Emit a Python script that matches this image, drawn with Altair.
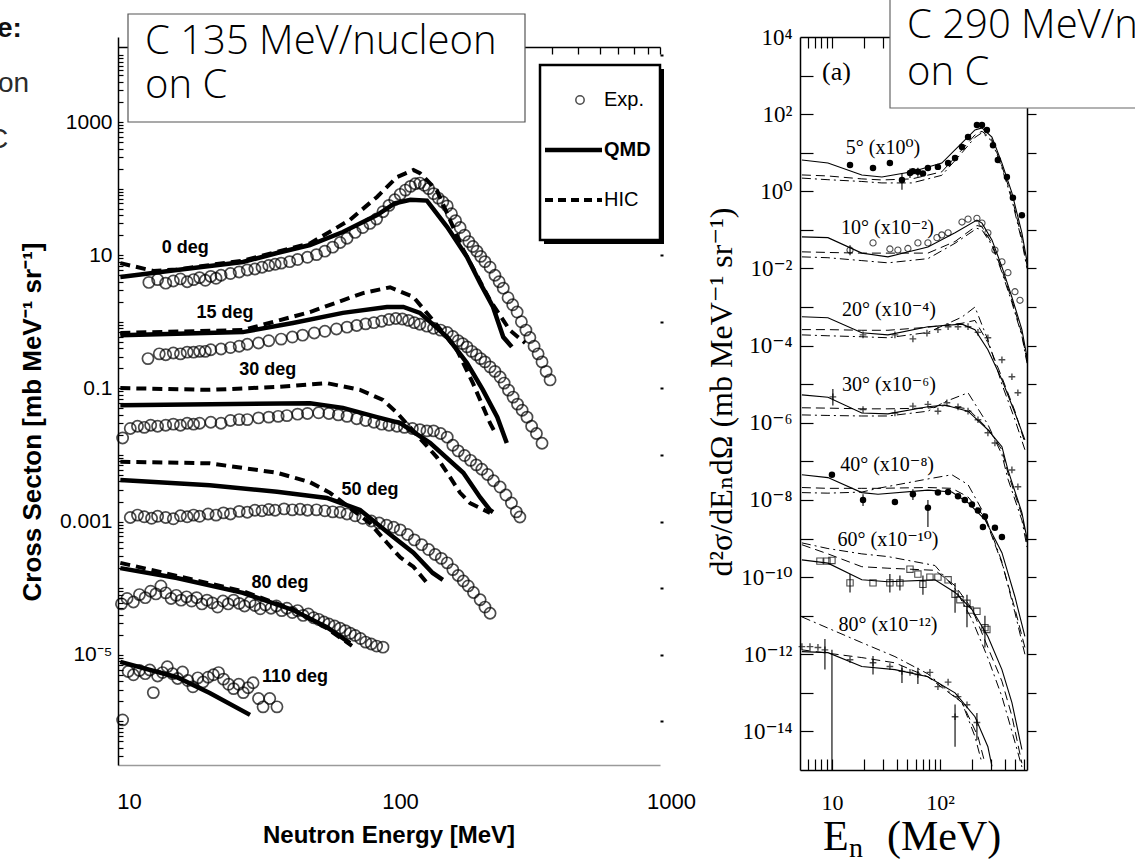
import altair as alt
import pandas as pd

# ================= LEFT PANEL : C 135 MeV/nucleon on C =================
# Exp. (open circles)
exp0_E = [13,14,15,16,17,18,19,20,21,22,23,24,26,28,30,32,34,36,38,40,43,46,50,54,58,62,66,70,75,80,85,90,95,100,105,110,115,120,125,130,135,140,146,152,158,164,170,176,183,190,197,204,211,218,226,236,246,255,264,275,286,297,308,320,331,343,355,367,380,393]
exp0_v = [3.9,4.3,3.8,4.1,4.4,4.0,4.3,4.6,4.2,4.8,4.5,5.0,5.3,5.6,6.0,6.2,6.6,7.0,7.3,7.6,8.0,8.6,9.3,10.2,11.5,13.2,15.5,18,22,26,30,35,45,56,68,82,95,108,118,121,112,100,84,72,63,55,42,33,26,20,16,13.5,11.5,9.6,8.0,6.6,5.0,4.0,3.2,2.3,1.8,1.4,1.0,0.75,0.58,0.43,0.33,0.25,0.18,0.134]
exp15_E = [12.9,14.2,15,16,17,18,19,20,21,22,24,26,28,30,33,36,40,44,48,53,58,64,70,76,82,88,94,100,106,112,118,124,130,138,146,155,164,172,180,187,194,202,210,218,226,236,246,257,266,276,287,298,310,323,336,350,367]
exp15_v = [0.28,0.33,0.32,0.34,0.33,0.35,0.35,0.36,0.36,0.38,0.39,0.41,0.43,0.46,0.48,0.52,0.55,0.59,0.63,0.68,0.72,0.78,0.83,0.88,0.93,0.97,1.02,1.08,1.12,1.10,1.05,0.97,0.92,0.86,0.80,0.75,0.69,0.60,0.52,0.47,0.42,0.36,0.32,0.28,0.25,0.21,0.18,0.148,0.12,0.094,0.074,0.058,0.047,0.037,0.027,0.021,0.015]
exp30_E = [10.4,11.1,11.8,12.5,13.2,14,15,16,17,18,19,20,22,24,26,28,30,33,36,39,42,46,50,55,60,65,70,76,82,88,94,100,107,114,122,130,138,146,155,164,172,180,190,200,210,220,231,243,257,270,283,295,304]
exp30_v = [0.018,0.025,0.027,0.026,0.028,0.027,0.028,0.029,0.028,0.030,0.029,0.030,0.031,0.030,0.033,0.034,0.034,0.036,0.037,0.038,0.039,0.041,0.042,0.043,0.042,0.040,0.038,0.035,0.033,0.031,0.029,0.028,0.027,0.026,0.025,0.024,0.023,0.023,0.021,0.0185,0.014,0.0115,0.0098,0.0083,0.0071,0.0061,0.0051,0.0041,0.0033,0.0025,0.0019,0.0014,0.00117]
exp50_E = [11.1,11.8,12.5,13.3,14,15,16,17,18,19,20,21.5,23,24.5,26,28,30,32,34,36,38,41,44,47,50,54,58,62,66,70,75,80,86,92,98,104,110,117,124,132,140,148,156,164,172,180,188,196,205,217,226,236]
exp50_v = [0.00115,0.00125,0.00118,0.00112,0.00120,0.00115,0.00110,0.00122,0.00118,0.00125,0.00120,0.00130,0.00125,0.00135,0.00130,0.00142,0.00138,0.00148,0.00145,0.00152,0.00148,0.00155,0.00150,0.00153,0.00148,0.00150,0.00145,0.00140,0.00138,0.00130,0.00122,0.00112,0.00102,0.00095,0.00088,0.00082,0.00075,0.00064,0.00053,0.00045,0.00038,0.00032,0.00028,0.00024,0.00019,0.000155,0.000128,0.000108,8.6e-5,6.7e-5,5.2e-5,4.2e-5]
exp80_E = [10.3,10.8,11.4,12.0,12.6,13.2,13.8,14.4,15.0,15.7,16.4,17.1,17.9,18.7,19.5,20.4,21.3,22.3,23.3,24.4,25.5,26.7,28,29.3,30.7,32,33.5,35,36.7,38.4,40.2,42,44,46,48.2,50.4,52.7,55,57.5,60,63,66,69,72,75,78.5,82,86,90,95]
exp80_v = [5.8e-5,7.0e-5,6.2e-5,8.0e-5,7.2e-5,9.0e-5,8.2e-5,1.08e-4,8.5e-5,7.0e-5,7.8e-5,6.6e-5,7.4e-5,6.4e-5,7.2e-5,5.8e-5,6.6e-5,6.0e-5,5.2e-5,6.4e-5,5.8e-5,6.6e-5,5.9e-5,5.4e-5,6.2e-5,5.5e-5,4.9e-5,5.6e-5,5.0e-5,5.4e-5,4.6e-5,5.0e-5,4.3e-5,4.6e-5,3.9e-5,4.1e-5,3.6e-5,3.4e-5,3.1e-5,2.9e-5,2.7e-5,2.5e-5,2.3e-5,2.1e-5,1.95e-5,1.75e-5,1.55e-5,1.45e-5,1.35e-5,1.3e-5]
exp110_E = [10.4,10.9,11.4,12.0,12.6,13.1,13.5,14.0,14.6,15.2,15.9,16.6,17.3,18.1,18.9,19.7,20.6,21.5,22.5,23.5,24.5,25.6,26.7,27.9,29,30.2,31.5,33,34.3,36.3,38.6]
exp110_v = [1.05e-6,5.6e-6,5.0e-6,5.8e-6,5.2e-6,5.9e-6,2.7e-6,4.8e-6,5.4e-6,6.6e-6,5.2e-6,4.4e-6,5.5e-6,4.1e-6,3.3e-6,4.5e-6,3.9e-6,4.6e-6,5.0e-6,5.4e-6,4.3e-6,3.6e-6,3.1e-6,3.6e-6,2.7e-6,3.2e-6,3.8e-6,2.2e-6,1.65e-6,2.2e-6,1.65e-6]

# QMD (solid)
qmd0_E = [10.2,16.5,28.9,38.6,51.1,67.6,90.3,105,120,138,164,194,217,242,264,284]
qmd0_v = [4.7,6.0,7.9,10.8,14.2,22.3,40,60,68,66,26.5,9.4,3.8,1.67,0.59,0.42]
qmd15_E = [10.2,28.9,44.2,67.6,98.3,113,130,164,194,222,251,272]
qmd15_v = [0.63,0.70,0.96,1.36,1.67,1.67,1.36,0.59,0.24,0.095,0.037,0.0151]
qmd30_E = [10.2,51.1,67.6,90.3,110,142,188,217,236,242]
qmd30_v = [0.056,0.060,0.051,0.037,0.030,0.0151,0.0054,0.0023,0.00149,0.00139]
qmd50_E = [10.2,21.8,38.6,59,78.2,103.5,123,145,158]
qmd50_v = [0.0042,0.0035,0.0028,0.00226,0.00149,0.00059,0.00034,0.000169,0.000133]
qmd80_E = [10.2,16.5,28.9,44.2,59,71.8]
qmd80_v = [0.00020,0.000142,8.5e-5,4.7e-5,2.6e-5,1.5e-5]
qmd110_E = [10.2,16.5,21.8,30.7]
qmd110_v = [7.8e-6,4.6e-6,2.67e-6,1.25e-6]

# HIC (dashed)
hic0_E = [10.2,13.5,16.5,28.9,51.1,71.8,90.3,107,123,130,150,188,236,279,318]
hic0_v = [7.6,5.8,6.1,8.3,15,34,75,149,190,171,95,12.0,2.1,0.75,0.48]
hic15_E = [10.2,28.9,51.1,80.2,100.9,123,142,178,204,236,246]
hic15_v = [0.68,0.75,1.40,2.7,3.3,2.36,1.18,0.38,0.12,0.030,0.022]
hic30_E = [10.2,21.8,38.6,59,78.2,95,107,150,164,183,199,236]
hic30_v = [0.101,0.095,0.105,0.12,0.095,0.067,0.043,0.0093,0.0054,0.0027,0.0019,0.00135]
hic50_E = [10.2,21.8,38.6,51.1,60.6,85,98.3,110,123,138]
hic50_v = [0.0079,0.0075,0.0054,0.0039,0.0027,0.00095,0.00048,0.00029,0.00021,0.00012]
hic80_E = [10.2,14.3,28.9,44.2,59,73]
hic80_v = [0.00024,0.000175,9.0e-5,4.8e-5,2.5e-5,1.36e-5]

L_LABELS = ["0 deg", "15 deg", "30 deg", "50 deg", "80 deg", "110 deg"]
L_LABEL_E = [17.7, 24.8, 35.7, 85.1, 39.6, 45.0]
L_LABEL_V = [12.8, 1.36, 0.189, 0.00298, 1.2e-4, 4.6e-6]

L_XTICKS = [10, 100, 1000]
L_YTICKS = [1e-5, 1e-3, 0.1, 10, 1000]

# ================= RIGHT PANEL : C 290 MeV/nucleon on C =================
r5_E = [5.27,9.18,18.9,29.0,55.1,104,160,211,245,303,375,464,574,640]
r5_sol = [6.5,5.4,2.66,2.36,3.2,5.4,17.9,39,44,25.6,5.4,0.91,0.084,0.015]
r5_dash = [2.66,2.5,2.1,1.97,2.1,3.2,12,29,36,22,4.5,0.7,0.06,0.012]
r5_dd = [2.2,2.0,1.8,1.65,1.65,2.6,10,25,33,20,4.0,0.6,0.05,0.01]
r10_E = [5.27,9.18,18.9,33.0,77.4,138,220,245,303,375,464,574,640]
r10_sol = [0.066,0.063,0.025,0.020,0.036,0.084,0.18,0.15,0.055,0.011,0.0018,0.00026,5e-5]
r10_dash = [0.027,0.026,0.025,0.025,0.025,0.05,0.13,0.12,0.045,0.009,0.0015,0.0002,4e-5]
r10_dd = [0.020,0.019,0.016,0.014,0.018,0.045,0.11,0.10,0.04,0.008,0.0013,0.00018,3.5e-5]
r20_E = [5.27,9.18,18.9,33.0,77.4,160,211,278,375,495,612]
r20_sol = [5.6e-4,5.3e-4,2.15e-4,1.9e-4,3.1e-4,3.6e-4,2.6e-4,7.8e-5,1.3e-5,1.8e-6,3.6e-7]
r20_dash = [2.6e-4,2.6e-4,2.5e-4,2.5e-4,3.0e-4,3.8e-4,4.5e-4,1.2e-4,1.5e-5,2e-6,3e-7]
r20_dd = [1.9e-4,1.8e-4,1.7e-4,1.6e-4,2.2e-4,5.5e-4,1.0e-3,1.4e-4,1.0e-5,1.2e-6,2e-7]
r30_E = [5.27,9.18,18.9,33.0,77.4,111,182,278,375,426,574,640]
r30_sol = [5.3e-6,4.6e-6,1.8e-6,1.7e-6,2.6e-6,2.9e-6,2.0e-6,6.6e-7,2.4e-7,6e-8,4.7e-9,1e-9]
r30_dash = [2.45e-6,2.4e-6,2.3e-6,2.3e-6,2.4e-6,2.8e-6,2.3e-6,7e-7,2e-7,5e-8,4e-9,8e-10]
r30_dd = [1.6e-6,1.55e-6,1.5e-6,1.5e-6,2.0e-6,3.5e-6,6e-6,9e-7,1.5e-7,3.5e-8,3e-9,6e-10]
r40_E = [5.27,9.18,18.9,26.7,77.4,129,182,261,375,495,612]
r40_sol = [4.5e-8,3.8e-8,1.55e-8,1.4e-8,1.8e-8,1.6e-8,8.5e-9,3.1e-9,4.3e-10,3.1e-11,2.9e-12]
r40_dash = [2.1e-8,2.0e-8,2.0e-8,2.0e-8,2.1e-8,2.0e-8,1.2e-8,3.5e-9,2.3e-10,1.5e-11,1.5e-12]
r40_dd = [1.55e-8,1.5e-8,1.6e-8,2.0e-8,3.5e-8,4.5e-8,2.5e-8,4e-9,2.5e-10,1.2e-11,1e-12]
r60_E = [5.27,9.18,18.9,33.0,89.9,138,198,278,375,464,574]
r60_sol = [2.8e-10,2.3e-10,8.5e-11,7.6e-11,8.5e-11,4.0e-11,1.44e-11,2.9e-12,4e-13,5.6e-14,3.4e-15]
r60_dash = [6.9e-10,4e-10,1.86e-10,1.7e-10,1.5e-10,6e-11,1.5e-11,1.5e-12,2e-13,2.5e-14,1.5e-15]
r60_dd = [7.7e-10,5.5e-10,4e-10,3.4e-10,2.0e-10,5e-11,8e-12,8e-13,8e-14,1e-14,1.2e-15]
r80_sol_E = [5.27,9.18,18.9,38.3,77.4,138,211,278,303]
r80_sol = [1.17e-12,1.1e-12,4.8e-13,4.0e-13,2.6e-13,1.0e-13,2.4e-14,4.0e-15,1.25e-15]
r80_dash_E = [5.27,18.9,38.3,77.4,160,225,261]
r80_dash = [1.3e-12,8.2e-13,6.0e-13,2.6e-13,5.6e-14,7.4e-15,1.5e-15]
r80_dd_E = [5.27,18.9,38.3,77.4,160,211,245]
r80_dd = [9.3e-12,2.0e-12,8.7e-13,3.1e-13,5.6e-14,7.4e-15,1.5e-15]

# measured points
x5_E = [14.7,24.0,34.4,44.5,52.8,56.2,62.5,69.6,77.4,95.8,119,138,160,182,220,245,272,310,344,417,474,574]
x5_v = [4.8,4.0,5.4,1.97,3.0,3.3,3.2,2.9,4.0,4.3,5.4,7.3,14.1,25.6,52,52,39,15.7,6.5,2.36,0.68,0.24]
x10_E = [14.7,24.0,34.4,40.8,50.5,62.5,77.4,93.8,104,119,160,182,220,245,278,323,375,426,495,551]
x10_v = [0.030,0.046,0.032,0.030,0.033,0.046,0.046,0.063,0.074,0.084,0.16,0.19,0.20,0.15,0.084,0.030,0.0148,0.0078,0.0025,0.0015]
x20_E = [19.4,38.3,56.2,75.8,95.8,119,147,182,225,278,375,464,527]
x20_v = [1.9e-4,1.9e-4,1.5e-4,2.1e-4,2.6e-4,3.1e-4,3.1e-4,3.1e-4,2.2e-4,1.6e-4,4.3e-5,1.56e-5,6.0e-6]
x30_E = [10.2,19.4,38.3,56.2,77.4,95.8,116,147,182,225,278,323,464,527]
x30_v = [4.7e-6,2.2e-6,1.8e-6,2.7e-6,3.0e-6,2.0e-6,3.3e-6,2.6e-6,2.0e-6,1.2e-6,5.5e-7,3.0e-7,6e-8,2.2e-8]
x40_E = [10,19.4,38.3,56.2,77.4,95.8,119,147,170,198,225,250,261,323,375]
x40_v = [4.5e-8,1.0e-8,8.9e-9,1.4e-8,6.3e-9,1.55e-8,1.6e-8,1.25e-8,1.0e-8,7.6e-9,5.3e-9,2.0e-9,3.7e-9,1.9e-9,1.1e-9]
x60_E = [7.74,8.99,10,14.7,24.0,34.4,42.6,52.8,62.5,69.6,80.8,95.8,119,138,153,178,190,220,261,272]
x60_v = [2.6e-10,2.6e-10,2.7e-10,7.1e-11,7.1e-11,7.1e-11,7.1e-11,1.6e-10,1.2e-10,6.5e-11,1.0e-10,1.0e-10,8.5e-11,3.6e-11,2.6e-11,2.1e-11,1.4e-11,1.3e-11,4.9e-12,4.4e-12]
x80_E = [5.27,6.26,7.42,8.61,14.7,24.0,34.4,44.5,52.8,62.5,80.8,95.8,119,138,147,178,220]
x80_v = [1.58e-12,1.58e-12,1.5e-12,1.3e-12,7.2e-13,6.0e-13,4.8e-13,3.6e-13,3.4e-13,3.0e-13,3.4e-13,1.45e-13,1.9e-13,2.4e-14,8e-14,4.9e-14,1.7e-14]

err_E = [44.5,52.8,62.5,14.7,10.2,19.4,56.2,77.4,14.7,34.4,42.6,69.6,138,178,261,8.61,10,24.0,44.5,62.5,138,220]
err_lo = [1.1,2.2,2.4,0.022,2.8e-6,7e-9,1.0e-8,2.0e-9,4e-11,4e-11,4.5e-11,3.5e-11,1.2e-11,5e-12,1.5e-12,4e-13,1e-15,3e-13,1.8e-13,1.7e-13,4e-15,6e-15]
err_hi = [2.9,3.9,4.1,0.040,7.5e-6,1.4e-8,1.9e-8,1.0e-8,1.2e-10,1.2e-10,1.1e-10,1.1e-10,7e-11,3.5e-11,1.0e-11,2.5e-12,1.3e-12,9e-13,5e-13,4.5e-13,5e-14,3e-14]

R_LABELS = ["5° (x10⁰)", "10° (x10⁻²)", "20° (x10⁻⁴)", "30° (x10⁻⁶)", "40° (x10⁻⁸)", "60° (x10⁻¹⁰)", "80° (x10⁻¹²)"]
R_LABEL_E = [29.7, 32.7, 33.7, 33.7, 32.4, 33.0, 33.0]
R_LABEL_V = [13.3, 0.113, 8.5e-4, 9.6e-6, 8.2e-8, 9.3e-10, 5.8e-12]

R_YTICKS = [1e4, 1e2, 1.0, 1e-2, 1e-4, 1e-6, 1e-8, 1e-10, 1e-12, 1e-14]
R_YTEXT = ["10⁴", "10²", "10⁰", "10⁻²", "10⁻⁴", "10⁻⁶", "10⁻⁸", "10⁻¹⁰", "10⁻¹²", "10⁻¹⁴"]
R_XTICKS = [10, 100]

# ======================== build ========================
W, H = 1135, 861
NARROW = "Liberation Sans Narrow, Liberation Sans, Arial, sans-serif"
SANS = "Liberation Sans, Arial, sans-serif"
SERIF = "Liberation Serif, DejaVu Serif, serif"
SLIDE = "Open Sans, Lato, sans-serif"
ONE = pd.DataFrame({"k": [0]})

# panel placement (pixel ranges of each panel's scales)
LX = alt.Scale(type="log", domain=[10, 1000], range=[118, 660], nice=False)
LY = alt.Scale(type="log", domain=[2.21e-7, 1.89e4], range=[765, 37], nice=False)
RX = alt.Scale(type="log", domain=[5.06, 640], range=[800, 1027], nice=False)
RY = alt.Scale(type="log", domain=[1e-15, 1e4], range=[770, 37], nice=False)


def frame(series):
    rows = []
    for name, E, V in series:
        for e, v in zip(E, V):
            rows.append({"E": e, "v": v, "g": name})
    return pd.DataFrame(rows)


def px_text(txt, x, y, size, font, weight="normal", align="left", baseline="alphabetic", angle=0, color="black"):
    props = dict(text=txt, align=align, baseline=baseline, font=font, fontSize=size, fontWeight=weight, color=color)
    if angle:
        props["angle"] = angle
    return alt.Chart(ONE).mark_text(**props).encode(x=alt.value(x), y=alt.value(y))


def px_rect(x, x2, y, y2, **kw):
    return alt.Chart(ONE).mark_rect(**kw).encode(x=alt.value(x), x2=alt.value(x2), y=alt.value(y), y2=alt.value(y2))


def px_rule(x, x2, y, **kw):
    return alt.Chart(ONE).mark_rule(**kw).encode(x=alt.value(x), x2=alt.value(x2), y=alt.value(y))


def guide_y(scale, **axis_kw):
    return alt.Chart(ONE).mark_point(opacity=0).encode(
        y=alt.Y("k:Q", scale=scale, axis=alt.Axis(labels=False, title=None, grid=False, tickColor="black", **axis_kw)))


def guide_x(scale, **axis_kw):
    return alt.Chart(ONE).mark_point(opacity=0).encode(
        x=alt.X("k:Q", scale=scale, axis=alt.Axis(labels=False, title=None, grid=False, tickColor="black", **axis_kw)))


def xy(sx, sy, xaxis=None, yaxis=None):
    return dict(x=alt.X("E:Q", scale=sx, axis=xaxis), y=alt.Y("v:Q", scale=sy, axis=yaxis))


# ---------- LEFT ----------
L_exp = frame([(L_LABELS[0], exp0_E, exp0_v), (L_LABELS[1], exp15_E, exp15_v), (L_LABELS[2], exp30_E, exp30_v),
               (L_LABELS[3], exp50_E, exp50_v), (L_LABELS[4], exp80_E, exp80_v), (L_LABELS[5], exp110_E, exp110_v)])
L_qmd = frame([(L_LABELS[0], qmd0_E, qmd0_v), (L_LABELS[1], qmd15_E, qmd15_v), (L_LABELS[2], qmd30_E, qmd30_v),
               (L_LABELS[3], qmd50_E, qmd50_v), (L_LABELS[4], qmd80_E, qmd80_v), (L_LABELS[5], qmd110_E, qmd110_v)])
L_hic = frame([(L_LABELS[0], hic0_E, hic0_v), (L_LABELS[1], hic15_E, hic15_v), (L_LABELS[2], hic30_E, hic30_v),
               (L_LABELS[3], hic50_E, hic50_v), (L_LABELS[4], hic80_E, hic80_v)])
L_lab = pd.DataFrame({"E": L_LABEL_E, "v": L_LABEL_V, "t": L_LABELS})

L_minor = [k * 10.0 ** e for e in range(-7, 5) for k in range(1, 10) if 2.3e-7 <= k * 10.0 ** e <= 1.8e4]
L_decades = [float(f"1e{e}") for e in range(-6, 5)]
L_topticks = [k * 10.0 ** e for e in (1, 2) for k in range(2, 10)] + [1000]

main_x = alt.Axis(orient="bottom", offset=765 - H, values=L_XTICKS, labelExpr="format(datum.value, 'd')",
                  labelFont=NARROW, labelFontSize=22, labelPadding=26, labelFlush=False, labelOffset=11,
                  tickSize=0, domainColor="#9a9a9a", domainWidth=1.3, labelColor="black", title=None, grid=False)
main_y = alt.Axis(orient="left", offset=-118, values=L_YTICKS,
                  labelExpr="datum.value < 0.0001 ? '10⁻⁵' : format(datum.value, '~g')",
                  labelFont=NARROW, labelFontSize=21, labelPadding=6, tickSize=0, domainColor="black",
                  domainWidth=1.5, labelColor="black", title=None, grid=False)

left_layers = [
    alt.Chart(L_qmd).mark_line(color="black", strokeWidth=4.5).encode(**xy(LX, LY, main_x, main_y), detail="g:N"),
    alt.Chart(L_hic).mark_line(color="black", strokeWidth=4, strokeDash=[10, 6]).encode(**xy(LX, LY), detail="g:N"),
    alt.Chart(L_exp).mark_point(shape="circle", filled=False, color="black", size=125, strokeWidth=1.7).encode(**xy(LX, LY)),
    guide_y(LY, orient="right", offset=118 - W, values=L_minor, domain=False, tickSize=5, tickWidth=1.2),
    guide_y(LY, orient="right", offset=660 - W, values=L_decades, domain=False, tickSize=3, tickWidth=2),
    guide_x(LX, orient="bottom", offset=47 - H, values=L_topticks, domain=True, domainColor="black",
            domainWidth=1.5, tickSize=7, tickWidth=1.3),
    alt.Chart(L_lab).mark_text(font=NARROW, fontSize=18, fontWeight="bold", color="black").encode(**xy(LX, LY), text="t:N"),
    # title box
    px_rect(128, 525, 14, 122, fill="white", stroke="#555555", strokeWidth=1.2),
    px_text("C 135 MeV/nucleon", 145, 54, 40, SLIDE, weight=300),
    px_text("on C", 145, 98, 40, SLIDE, weight=300),
    # legend box
    px_rect(544, 664, 69, 244, fill="black"),
    px_rect(540, 660, 65, 240, fill="white", stroke="black", strokeWidth=2.5),
    alt.Chart(ONE).mark_point(shape="circle", filled=False, color="black", size=70, strokeWidth=1.5).encode(
        x=alt.value(580), y=alt.value(100)),
    px_text("Exp.", 604, 100, 20, NARROW, baseline="middle"),
    px_rule(545, 602, 150, color="black", strokeWidth=4.5),
    px_text("QMD", 604, 150, 20, NARROW, weight="bold", baseline="middle"),
    px_rule(545, 602, 200, color="black", strokeWidth=4, strokeDash=[8, 5]),
    px_text("HIC", 604, 200, 20, NARROW, baseline="middle"),
    # axis titles
    px_text("Cross Secton [mb MeV⁻¹ sr⁻¹]", 33, 422, 26, SANS, weight="bold", align="center", baseline="middle", angle=270),
    px_text("Neutron Energy [MeV]", 389, 836, 24, NARROW, weight="bold", align="center", baseline="middle"),
    # slide fragments at far left (cut by the slide edge)
    px_text("e:", -3, 37, 28, SANS, weight="bold", color="#111111"),
    px_text("on", -2, 92, 28, SANS, color="#2b2b2b"),
    px_text("C", -12, 148, 28, SANS, color="#2b2b2b"),
]

# ---------- RIGHT ----------
ang = ["5", "10", "20", "30", "40", "60", "80"]
R_sol = frame([(ang[0], r5_E, r5_sol), (ang[1], r10_E, r10_sol), (ang[2], r20_E, r20_sol), (ang[3], r30_E, r30_sol),
               (ang[4], r40_E, r40_sol), (ang[5], r60_E, r60_sol), (ang[6], r80_sol_E, r80_sol)])
R_dash = frame([(ang[0], r5_E, r5_dash), (ang[1], r10_E, r10_dash), (ang[2], r20_E, r20_dash), (ang[3], r30_E, r30_dash),
                (ang[4], r40_E, r40_dash), (ang[5], r60_E, r60_dash), (ang[6], r80_dash_E, r80_dash)])
R_dd = frame([(ang[0], r5_E, r5_dd), (ang[1], r10_E, r10_dd), (ang[2], r20_E, r20_dd), (ang[3], r30_E, r30_dd),
              (ang[4], r40_E, r40_dd), (ang[5], r60_E, r60_dd), (ang[6], r80_dd_E, r80_dd)])
R_fill = frame([(ang[0], x5_E, x5_v), (ang[4], x40_E, x40_v)])
R_open = frame([(ang[1], x10_E, x10_v)])
R_plus = frame([(ang[2], x20_E, x20_v), (ang[3], x30_E, x30_v), (ang[6], x80_E, x80_v)])
R_sq = frame([(ang[5], x60_E, x60_v)])
R_err = pd.DataFrame({"E": err_E, "lo": err_lo, "hi": err_hi})
R_lab = pd.DataFrame({"E": R_LABEL_E, "v": R_LABEL_V, "t": R_LABELS})

r_expr = "".join(f"datum.value > {t / 10:g} ? '{s}' : " for t, s in zip(R_YTICKS, R_YTEXT)) + "''"
R_decades = [float(f"1e{e}") for e in range(-14, 4)]
R_minor_x = [6, 7, 8, 9, 10, 20, 30, 40, 50, 60, 70, 80, 90, 100, 200, 300, 400, 500, 600]

r_main_x = alt.Axis(orient="bottom", offset=770 - H, values=R_XTICKS, labelExpr="datum.value < 50 ? '10' : '10²'",
                    labelFont=SERIF, labelFontSize=22, labelPadding=22, tickSize=0, domainColor="black",
                    domainWidth=1.5, labelColor="black", labelFlush=False, title=None, grid=False)
r_main_y = alt.Axis(orient="left", offset=-800, values=R_YTICKS, labelExpr=r_expr, labelFont=SERIF,
                    labelFontSize=23, labelPadding=8, tickSize=0, domainColor="black", domainWidth=1.5,
                    labelColor="black", labelFlush=False, title=None, grid=False)
PLUS = "M-1,0L1,0M0,-1L0,1"

right_layers = [
    alt.Chart(R_sol).mark_line(color="black", strokeWidth=1.1).encode(**xy(RX, RY, r_main_x, r_main_y), detail="g:N"),
    alt.Chart(R_dash).mark_line(color="black", strokeWidth=1.0, strokeDash=[9, 5]).encode(**xy(RX, RY), detail="g:N"),
    alt.Chart(R_dd).mark_line(color="black", strokeWidth=1.0, strokeDash=[9, 4, 2, 4]).encode(**xy(RX, RY), detail="g:N"),
    alt.Chart(R_err).mark_rule(color="black", strokeWidth=1.1).encode(
        x=alt.X("E:Q", scale=RX, axis=None), y=alt.Y("lo:Q", scale=RY, axis=None), y2="hi:Q"),
    alt.Chart(R_fill).mark_point(shape="circle", filled=True, color="black", size=42, opacity=1).encode(**xy(RX, RY)),
    alt.Chart(R_open).mark_point(shape="circle", filled=False, color="black", size=38, strokeWidth=1.1).encode(**xy(RX, RY)),
    alt.Chart(R_plus).mark_point(shape=PLUS, filled=False, color="black", size=45, strokeWidth=1.4).encode(**xy(RX, RY)),
    alt.Chart(R_sq).mark_point(shape="square", filled=False, color="black", size=40, strokeWidth=1.1).encode(**xy(RX, RY)),
    guide_y(RY, orient="right", offset=800 - W, values=R_decades, domain=False, tickSize=13, tickWidth=1.2),
    guide_y(RY, orient="right", offset=1027 - W, values=R_decades, domain=True, domainColor="black",
            domainWidth=1.5, tickSize=9, tickWidth=1.2),
    guide_x(RX, orient="top", offset=-770, values=R_minor_x, domain=False, tickSize=11, tickWidth=1.2),
    guide_x(RX, orient="bottom", offset=37 - H, values=R_minor_x, domain=True, domainColor="black",
            domainWidth=1.5, tickSize=11, tickWidth=1.2),
    alt.Chart(R_lab).mark_text(font=SERIF, fontSize=20, color="black").encode(**xy(RX, RY), text="t:N"),
    px_text("(a)", 822, 72, 26, SERIF, baseline="middle"),
    # title box (cut by the slide edge)
    px_rect(890, 1145, -2, 108, fill="white", stroke="#666666", strokeWidth=1.2),
    px_text("C 290 MeV/nucleon", 907, 38, 40, SLIDE, weight=300),
    px_text("on C", 907, 85, 40, SLIDE, weight=300),
    # axis titles
    px_text("d²σ/dEₙdΩ (mb MeV⁻¹ sr⁻¹)", 722, 392, 32, SERIF, align="center", baseline="middle", angle=270),
    px_text("E", 823, 850, 42, SERIF),
    px_text("n", 849, 857, 28, SERIF),
    px_text("(MeV)", 887, 850, 42, SERIF),
]

chart = alt.layer(*(left_layers + right_layers)).resolve_scale(
    x="independent", y="independent"
).properties(
    width=W, height=H, padding=0, background="white", autosize=alt.AutoSizeParams(type="none")
).configure_view(stroke=None)

chart.save("out.html", embed_options={"renderer": "svg", "actions": False})
